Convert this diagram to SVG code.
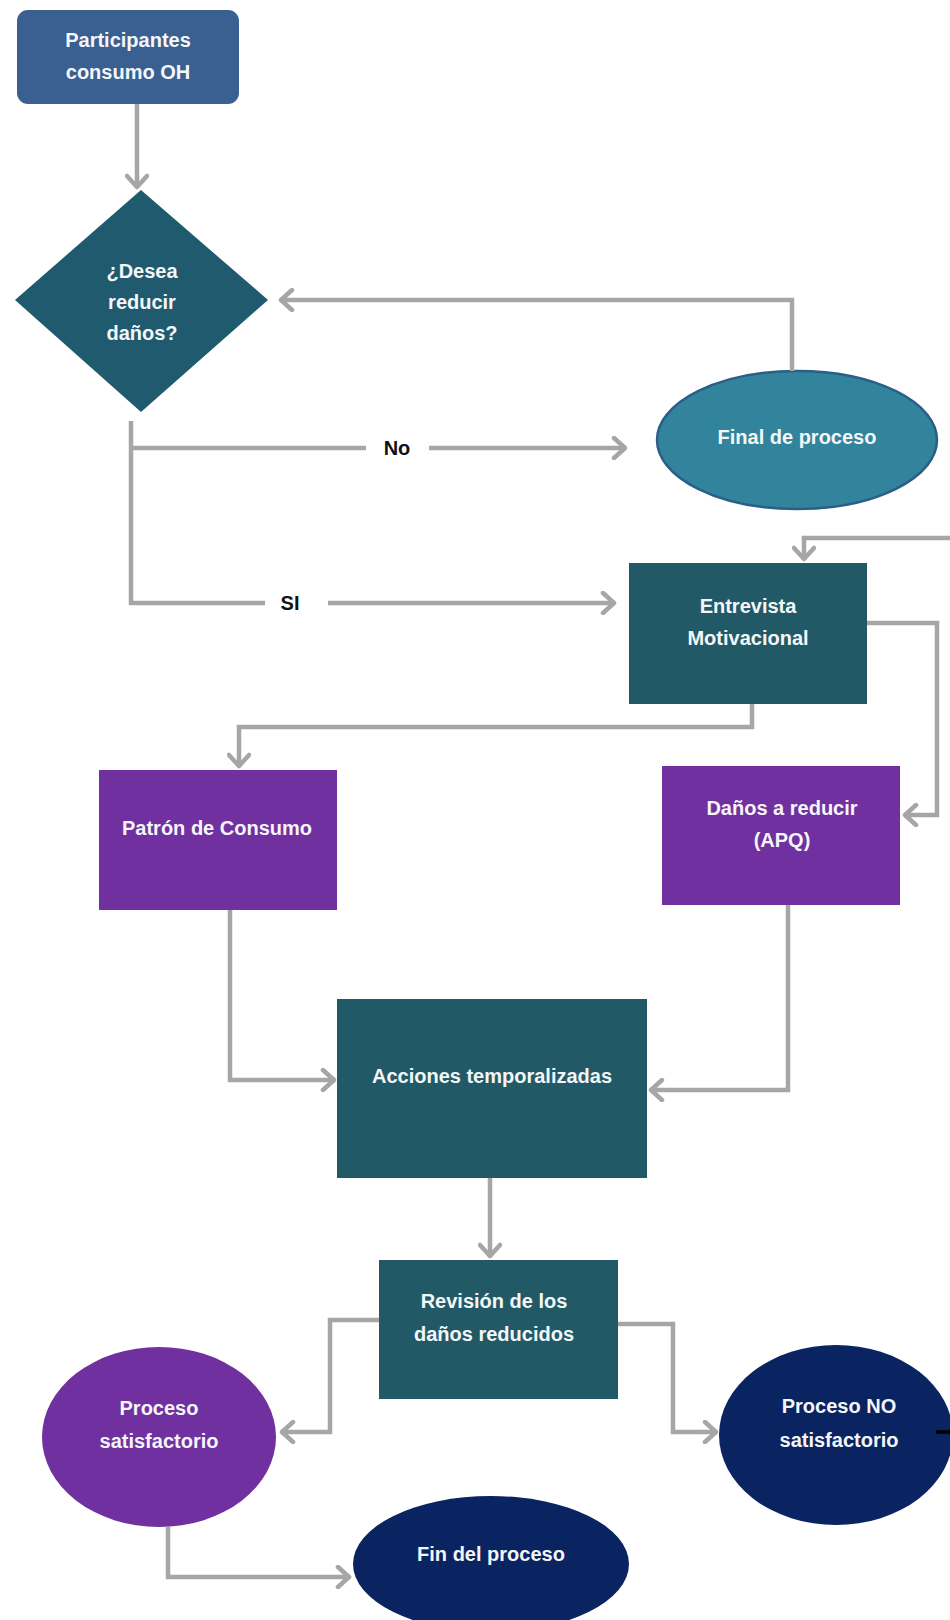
<svg xmlns="http://www.w3.org/2000/svg" width="950" height="1620" viewBox="0 0 950 1620">
<style>
.t{font-family:"Liberation Sans",Arial,sans-serif;font-weight:bold;font-size:20px;fill:#f4f6f8;text-anchor:middle}
.lbl{font-family:"Liberation Sans",Arial,sans-serif;font-weight:bold;font-size:20px;fill:#111;text-anchor:middle}
.c{fill:none;stroke:#a6a6a6;stroke-width:4.5;stroke-linejoin:miter}
.teal{fill:#215a66}
.purple{fill:#7030a0}
.navy{fill:#0a2361}
</style>
<defs>
<marker id="ah" markerUnits="userSpaceOnUse" markerWidth="18" markerHeight="24" viewBox="0 0 18 24" refX="15" refY="12" orient="auto">
<path d="M3,2 L14,12 L3,22" fill="none" stroke="#a6a6a6" stroke-width="4.5" stroke-linecap="round" stroke-linejoin="round"/>
</marker>
</defs>
<rect width="950" height="1620" fill="#ffffff"/>
<g id="n-participantes">
<rect x="17" y="10" width="222" height="94" rx="11" fill="#3a5f91"/>
<text class="t" x="128" y="47">Participantes</text>
<text class="t" x="128" y="79">consumo OH</text>
</g>
<g id="n-desea">
<polygon points="141,190 268,300 141,412 15,300" fill="#1f5a6e"/>
<text class="t" x="142" y="278">¿Desea</text>
<text class="t" x="142" y="309">reducir</text>
<text class="t" x="142" y="340">daños?</text>
</g>
<g id="n-final">
<ellipse cx="797" cy="440" rx="140" ry="69" fill="#31849b" stroke="#2a5f88" stroke-width="2.5"/>
<text class="t" x="797" y="444">Final de proceso</text>
</g>
<g id="n-entrevista">
<rect class="teal" x="629" y="563" width="238" height="141"/>
<text class="t" x="748" y="613">Entrevista</text>
<text class="t" x="748" y="645">Motivacional</text>
</g>
<g id="n-patron">
<rect class="purple" x="99" y="770" width="238" height="140"/>
<text class="t" x="217" y="835">Patrón de Consumo</text>
</g>
<g id="n-danos">
<rect class="purple" x="662" y="766" width="238" height="139"/>
<text class="t" x="782" y="815">Daños a reducir</text>
<text class="t" x="782" y="847">(APQ)</text>
</g>
<g id="n-acciones">
<rect class="teal" x="337" y="999" width="310" height="179"/>
<text class="t" x="492" y="1083">Acciones temporalizadas</text>
</g>
<g id="n-revision">
<rect class="teal" x="379" y="1260" width="239" height="139"/>
<text class="t" x="494" y="1308">Revisión de los</text>
<text class="t" x="494" y="1341">daños reducidos</text>
</g>
<g id="n-satisfactorio">
<ellipse cx="159" cy="1437" rx="117" ry="90" fill="#7030a0"/>
<text class="t" x="159" y="1415">Proceso</text>
<text class="t" x="159" y="1448">satisfactorio</text>
</g>
<g id="n-no-satisfactorio">
<ellipse class="navy" cx="836" cy="1435" rx="117" ry="90"/>
<text class="t" x="839" y="1413">Proceso NO</text>
<text class="t" x="839" y="1447">satisfactorio</text>
</g>
<g id="n-fin">
<ellipse class="navy" cx="491" cy="1564" rx="138" ry="68"/>
<text class="t" x="491" y="1561">Fin del proceso</text>
</g>
<g id="connectors">
<path class="c" d="M137,104 L137,188" marker-end="url(#ah)"/>
<path class="c" d="M792,371 L792,300 L280,300" marker-end="url(#ah)"/>
<path class="c" d="M131,421 L131,603 L265,603"/>
<path class="c" d="M328,603 L615,603" marker-end="url(#ah)"/>
<path class="c" d="M131,448 L366,448"/>
<path class="c" d="M429,448 L626,448" marker-end="url(#ah)"/>
<path class="c" d="M952,538 L804,538 L804,560" marker-end="url(#ah)"/>
<path class="c" d="M867,623 L937,623 L937,815 L904,815" marker-end="url(#ah)"/>
<path class="c" d="M752,704 L752,727 L239,727 L239,767" marker-end="url(#ah)"/>
<path class="c" d="M230,910 L230,1080 L335,1080" marker-end="url(#ah)"/>
<path class="c" d="M788,905 L788,1090 L650,1090" marker-end="url(#ah)"/>
<path class="c" d="M490,1178 L490,1257" marker-end="url(#ah)"/>
<path class="c" d="M379,1320 L330,1320 L330,1432 L281,1432" marker-end="url(#ah)"/>
<path class="c" d="M618,1324 L673,1324 L673,1432 L717,1432" marker-end="url(#ah)"/>
<path class="c" d="M168,1527 L168,1577 L350,1577" marker-end="url(#ah)"/>
<path d="M936,1432 L950,1432" stroke="#000" stroke-width="3.5" fill="none"/>
<text class="lbl" x="397" y="455">No</text>
<text class="lbl" x="290" y="610">SI</text>
</g>
</svg>
